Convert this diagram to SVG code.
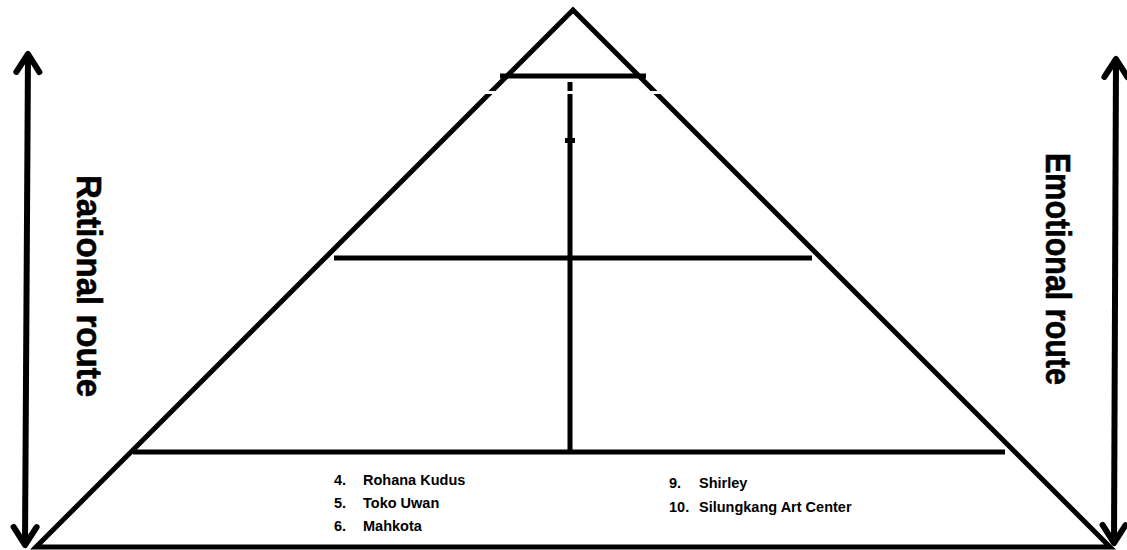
<svg xmlns="http://www.w3.org/2000/svg" width="1127" height="550" viewBox="0 0 1127 550">
  <style>
    .ln { stroke: #000; stroke-width: 5; fill: none; }
    .arr { stroke: #000; stroke-width: 6; fill: none; marker-start: url(#chev); marker-end: url(#chev); }
    .route { font-family: "Liberation Sans", Arial, sans-serif; font-weight: bold; font-size: 35px; fill: #000; stroke: #000; stroke-width: 0.6px; }
    .item { font-family: "Liberation Sans", Arial, sans-serif; font-weight: bold; font-size: 14.5px; fill: #000; }
  </style>
  <defs>
    <marker id="chev" viewBox="-22 -15 26 30" refX="0" refY="0" markerWidth="26" markerHeight="30" markerUnits="userSpaceOnUse" orient="auto-start-reverse">
      <path d="M -18 -11.5 L 0 0 L -18 11.5" stroke="#000" stroke-width="6" fill="none" stroke-linecap="round" stroke-linejoin="round"/>
    </marker>
  </defs>
  <rect width="1127" height="550" fill="#fff"/>

  <g id="pyramid">
    <polygon class="ln" points="573,10 36,547 1110,547" stroke-linejoin="miter"/>
  </g>

  <g id="connectors">
    <line class="ln" x1="500" y1="76" x2="646" y2="76" stroke-width="6"/>
    <line class="ln" x1="570" y1="82" x2="570" y2="452" stroke-width="6"/>
    <rect x="565" y="138" width="10" height="5" fill="#000"/>
    <rect x="484" y="91" width="180" height="3" fill="#fff"/>
    <line class="ln" x1="334" y1="258" x2="812" y2="258"/>
    <line class="ln" x1="133" y1="452" x2="1005" y2="452"/>
    <line class="arr" x1="28" y1="54" x2="25" y2="545"/>
    <line class="arr" x1="1116" y1="59" x2="1114" y2="543"/>
  </g>

  <g id="rational">
    <text class="route" transform="translate(77,175) rotate(90)" textLength="222" lengthAdjust="spacingAndGlyphs">Rational route</text>
  </g>
  <g id="emotional">
    <text class="route" transform="translate(1046,153) rotate(90)" textLength="232" lengthAdjust="spacingAndGlyphs">Emotional route</text>
  </g>

  <g id="list-left">
    <text class="item" x="334" y="485">4.</text><text class="item" x="363" y="485">Rohana Kudus</text>
    <text class="item" x="334" y="508">5.</text><text class="item" x="363" y="508">Toko Uwan</text>
    <text class="item" x="334" y="531">6.</text><text class="item" x="363" y="531">Mahkota</text>
  </g>
  <g id="list-right">
    <text class="item" x="669" y="488">9.</text><text class="item" x="699" y="488">Shirley</text>
    <text class="item" x="669" y="512">10.</text><text class="item" x="699" y="512">Silungkang Art Center</text>
  </g>
</svg>
